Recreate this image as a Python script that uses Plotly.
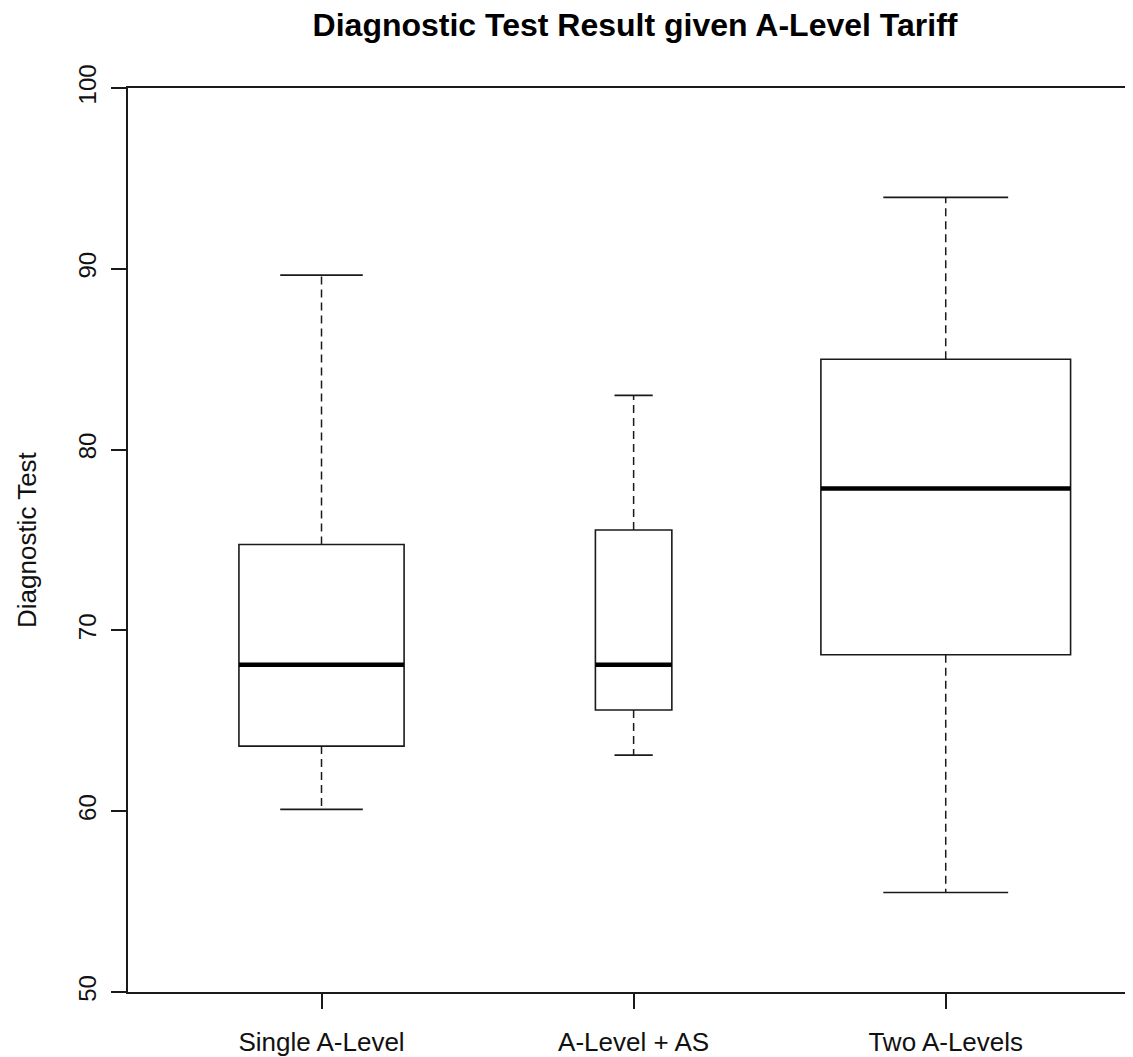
import plotly.graph_objects as go

# five-number summaries
categories = ["Single A-Level", "A-Level + AS", "Two A-Levels"]
lower_whisker = [60.1, 63.1, 55.5]
q1 = [63.6, 65.6, 68.65]
median = [68.1, 68.1, 77.85]
q3 = [74.75, 75.55, 85.0]
upper_whisker = [89.65, 83.0, 93.95]
# group sizes (box widths go with sqrt(n), like R's varwidth)
counts = [14, 3, 32]

line_col = "#1a1a1a"
max_root = max(counts) ** 0.5

fig = go.Figure()

for i, cat in enumerate(categories):
  pos = i + 1
  w = 0.8 * counts[i] ** 0.5 / max_root

  # box body only, whiskers are drawn separately so they can be dashed
  fig.add_trace(go.Box(x=[pos], q1=[q1[i]], median=[median[i]], q3=[q3[i]],
                       lowerfence=[q1[i]], upperfence=[q3[i]],
                       width=w, whiskerwidth=0, fillcolor="white",
                       line=dict(color=line_col, width=1.6),
                       name=cat, showlegend=False, hoverinfo="skip"))

  # thick median
  fig.add_trace(go.Scatter(x=[pos - w / 2, pos + w / 2], y=[median[i], median[i]],
                           mode="lines", line=dict(color="black", width=4.5),
                           showlegend=False, hoverinfo="skip"))

  # dashed whiskers
  for a, b in [(q3[i], upper_whisker[i]), (q1[i], lower_whisker[i])]:
    fig.add_trace(go.Scatter(x=[pos, pos], y=[a, b], mode="lines",
                             line=dict(color=line_col, width=1.5, dash="8px,5px"),
                             showlegend=False, hoverinfo="skip"))

  # staples, half the box width
  for v in [upper_whisker[i], lower_whisker[i]]:
    fig.add_trace(go.Scatter(x=[pos - w / 4, pos + w / 4], y=[v, v], mode="lines",
                             line=dict(color=line_col, width=1.6),
                             showlegend=False, hoverinfo="skip"))

# page body adds an 8px margin, so the figure is sized to match the window
fig.update_layout(
    width=1125, height=1049,
    margin=dict(l=120, r=0, t=80, b=63),
    plot_bgcolor="white", paper_bgcolor="white",
    font=dict(family="Liberation Sans, Arial, sans-serif", size=26, color="#111"),
    title=dict(text="<b>Diagnostic Test Result given A-Level Tariff</b>",
               x=0.5045, xref="paper", xanchor="center",
               y=0.984, yanchor="middle",
               font=dict(size=32, color="black")),
)

fig.update_xaxes(
    range=[0.38, 3.6], tickvals=[1, 2, 3], ticktext=categories,
    showline=True, linecolor=line_col, linewidth=1.5, mirror=True,
    ticks="outside", ticklen=15, tickwidth=1.5, tickcolor=line_col,
    showgrid=False, zeroline=False, ticklabelstandoff=11,
)

fig.update_yaxes(
    range=[50, 100], tickvals=[50, 60, 70, 80, 90, 100], tickangle=-90,
    showline=True, linecolor=line_col, linewidth=1.5,
    ticks="outside", ticklen=15, tickwidth=1.5, tickcolor=line_col,
    showgrid=False, zeroline=False, ticklabelstandoff=6,
    tickfont=dict(size=24),
)

fig.add_annotation(text="Diagnostic Test", xref="paper", yref="paper",
                   x=0, y=0.5, xshift=-101, xanchor="center", yanchor="middle",
                   textangle=-90, showarrow=False, font=dict(size=26))

fig.write_html("out.html")
